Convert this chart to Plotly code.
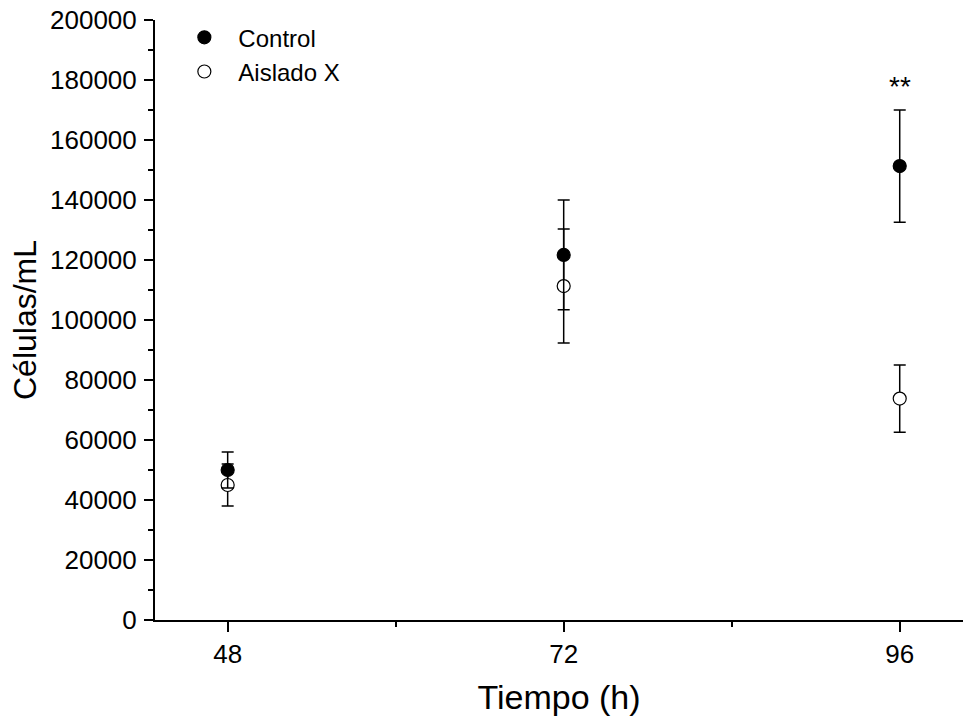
import plotly.graph_objects as go

tiempo = [48, 72, 96]
control = [50000, 121700, 151300]
control_err = [6000, 18300, 18700]
aislado = [45000, 111300, 73800]
aislado_err = [7000, 19000, 11200]
sig_label = "**"
sig_x = 96
sig_y = 172000

FONT = "Liberation Sans, Arial, sans-serif"

fig = go.Figure()
fig.add_trace(go.Scatter(
    x=tiempo, y=aislado, mode="markers", name="Aislado X",
    marker=dict(symbol="circle", size=13, color="white", line=dict(color="black", width=1.2)),
    error_y=dict(type="data", array=aislado_err, visible=True, color="black", thickness=1.5, width=6),
))
fig.add_trace(go.Scatter(
    x=tiempo, y=control, mode="markers", name="Control",
    marker=dict(symbol="circle", size=13, color="black", line=dict(color="black", width=1.2)),
    error_y=dict(type="data", array=control_err, visible=True, color="black", thickness=1.5, width=6),
))

fig.add_annotation(x=sig_x, y=sig_y, text=sig_label, showarrow=False,
                   font=dict(family=FONT, size=28, color="black"), yanchor="bottom")

fig.update_layout(
    width=963, height=719,
    margin=dict(l=155, r=0, t=20, b=99),
    paper_bgcolor="white", plot_bgcolor="white",
    font=dict(family=FONT, size=26, color="black"),
    showlegend=True,
    legend=dict(x=0.019, y=1.008, xanchor="left", yanchor="top", traceorder="reversed",
                font=dict(family=FONT, size=24, color="black"), bgcolor="rgba(0,0,0,0)",
                borderwidth=0, itemwidth=58),
    xaxis=dict(
        range=[42.81, 100.52], tickvals=tiempo, ticktext=[str(t) for t in tiempo],
        showgrid=False, zeroline=False, showline=True, linecolor="black", linewidth=2,
        ticks="outside", ticklen=10, tickwidth=2, tickcolor="black", automargin=False,
        minor=dict(tickvals=[60, 84], ticks="outside", ticklen=5, tickwidth=2, tickcolor="black"),
        title=dict(text="Tiempo (h)", font=dict(family=FONT, size=34), standoff=17),
        tickfont=dict(family=FONT, size=26),
    ),
    yaxis=dict(
        range=[0, 200000], tickmode="linear", tick0=0, dtick=20000, tickformat="d",
        showgrid=False, zeroline=False, showline=True, linecolor="black", linewidth=2,
        ticks="outside", ticklen=9, tickwidth=2, tickcolor="black", automargin=False,
        ticklabelstandoff=2,
        minor=dict(dtick=10000, ticks="outside", ticklen=5, tickwidth=2, tickcolor="black"),
        title=dict(text="Células/mL", font=dict(family=FONT, size=32), standoff=4),
        tickfont=dict(family=FONT, size=26),
    ),
)

fig.write_html("out.html", config={"displayModeBar": False},
               post_script="document.body.style.margin='0';")
